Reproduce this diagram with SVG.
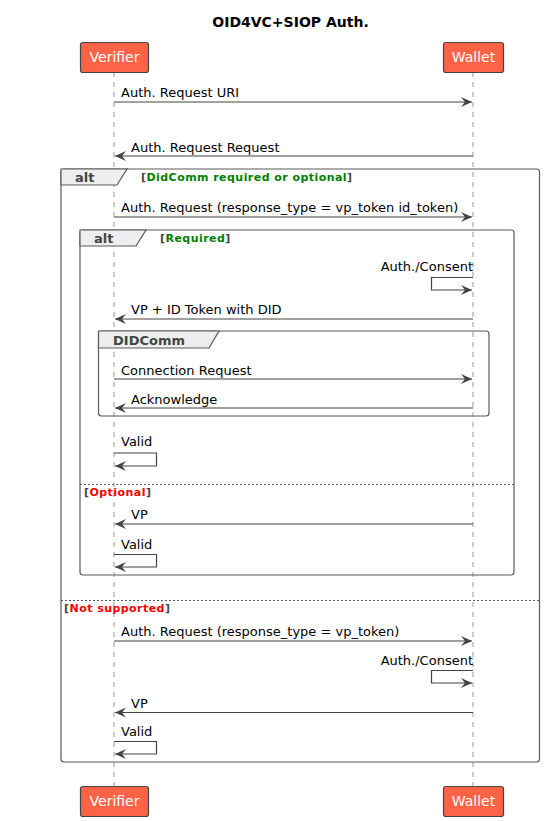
<svg xmlns="http://www.w3.org/2000/svg" width="545" height="821" viewBox="0 0 545 821">
<defs>
<style>
.t{font-family:"DejaVu Sans",sans-serif;font-size:13px;fill:#000}
.title{font-family:"DejaVu Sans",sans-serif;font-size:14px;font-weight:bold;fill:#000}
.p rect{fill:#FF6347;stroke:#444;stroke-width:1.2}
.p text{font-family:"DejaVu Sans",sans-serif;font-size:14px;fill:#fff}
.life{stroke:#999;stroke-width:1;stroke-dasharray:5,5}
.msg{stroke:#444;stroke-width:1.2;fill:none}
.frame{fill:none;stroke:#5a5a5a;stroke-width:1.2}
.tab{fill:#EEEEEE;stroke:#5a5a5a;stroke-width:1.2}
.ft{font-family:"DejaVu Sans",sans-serif;font-size:13px;font-weight:bold;fill:#444}
.g{font-family:"DejaVu Sans",sans-serif;font-size:11px;font-weight:bold;letter-spacing:0.45px;fill:#444}
.sep{stroke:#5a5a5a;stroke-width:1;stroke-dasharray:2,2}
</style>
<marker id="ah" viewBox="0 0 12 10" refX="11" refY="5" markerWidth="12" markerHeight="10" markerUnits="userSpaceOnUse" orient="auto">
<polygon points="0,0 11,5 0,10 4,5" fill="#444"/>
</marker>
</defs>
<rect width="545" height="821" fill="#fff"/>
<text class="title" x="290.5" y="27" text-anchor="middle">OID4VC+SIOP Auth.</text>

<g id="lifelines">
<line class="life" x1="114" y1="72" x2="114" y2="786"/>
<line class="life" x1="473" y1="72" x2="473" y2="786"/>
</g>

<g id="participant-verifier-top" class="p"><rect x="80.5" y="42.5" width="68" height="30" rx="2.5"/><text x="114.5" y="62" text-anchor="middle">Verifier</text></g>
<g id="participant-wallet-top" class="p"><rect x="443.5" y="42.5" width="60" height="30" rx="2.5"/><text x="473.5" y="62" text-anchor="middle">Wallet</text></g>
<g id="participant-verifier-bottom" class="p"><rect x="80.5" y="786.5" width="68" height="30" rx="2.5"/><text x="114.5" y="806" text-anchor="middle">Verifier</text></g>
<g id="participant-wallet-bottom" class="p"><rect x="443.5" y="786.5" width="60" height="30" rx="2.5"/><text x="473.5" y="806" text-anchor="middle">Wallet</text></g>

<g id="frames">
<g id="alt-outer">
<rect class="frame" x="61" y="169" width="478.5" height="593" rx="3"/>
<path class="tab" d="M61,169 H127 L117,185 H61 Z"/>
<text class="ft" x="75" y="182">alt</text>
<text class="g" x="141" y="181">[<tspan fill="#008000">DidComm required or optional</tspan>]</text>
<line class="sep" x1="61" y1="600.5" x2="539.5" y2="600.5"/>
<text class="g" x="64" y="612">[<tspan fill="#FF0000">Not supported</tspan>]</text>
</g>
<g id="alt-inner">
<rect class="frame" x="80" y="230" width="434" height="345" rx="3"/>
<path class="tab" d="M80,230 H146 L136,246 H80 Z"/>
<text class="ft" x="94" y="243">alt</text>
<text class="g" x="160" y="242">[<tspan fill="#008000">Required</tspan>]</text>
<line class="sep" x1="80" y1="484.5" x2="514" y2="484.5"/>
<text class="g" x="84" y="496">[<tspan fill="#FF0000">Optional</tspan>]</text>
</g>
<g id="group-didcomm">
<rect class="frame" x="98.5" y="331" width="390.5" height="85" rx="3"/>
<path class="tab" d="M98.5,331 H219 L209,348 H98.5 Z"/>
<text class="ft" x="113" y="345">DIDComm</text>
</g>
</g>

<g id="connectors">
<line class="msg" x1="114" y1="102" x2="472" y2="102" marker-end="url(#ah)"/>
<text class="t" x="121" y="97">Auth. Request URI</text>

<line class="msg" x1="473" y1="156" x2="115" y2="156" marker-end="url(#ah)"/>
<text class="t" x="131" y="152">Auth. Request Request</text>

<line class="msg" x1="114" y1="217" x2="472" y2="217" marker-end="url(#ah)"/>
<text class="t" x="121" y="212">Auth. Request (response_type = vp_token id_token)</text>

<path class="msg" d="M473,277.5 H431.5 V290 H472" marker-end="url(#ah)"/>
<text class="t" x="473" y="271" text-anchor="end">Auth./Consent</text>

<line class="msg" x1="473" y1="319" x2="115" y2="319" marker-end="url(#ah)"/>
<text class="t" x="131" y="314">VP + ID Token with DID</text>

<line class="msg" x1="114" y1="379" x2="472" y2="379" marker-end="url(#ah)"/>
<text class="t" x="121" y="375">Connection Request</text>

<line class="msg" x1="473" y1="408" x2="115" y2="408" marker-end="url(#ah)"/>
<text class="t" x="131" y="404">Acknowledge</text>

<path class="msg" d="M114,453 H156.5 V466 H115" marker-end="url(#ah)"/>
<text class="t" x="121" y="446">Valid</text>

<line class="msg" x1="473" y1="524" x2="115" y2="524" marker-end="url(#ah)"/>
<text class="t" x="131" y="519">VP</text>

<path class="msg" d="M114,554.5 H156.5 V567 H115" marker-end="url(#ah)"/>
<text class="t" x="121" y="549">Valid</text>

<line class="msg" x1="114" y1="641" x2="472" y2="641" marker-end="url(#ah)"/>
<text class="t" x="121" y="636">Auth. Request (response_type = vp_token)</text>

<path class="msg" d="M473,670.5 H431.5 V683 H472" marker-end="url(#ah)"/>
<text class="t" x="473" y="665" text-anchor="end">Auth./Consent</text>

<line class="msg" x1="473" y1="712.5" x2="115" y2="712.5" marker-end="url(#ah)"/>
<text class="t" x="131" y="708">VP</text>

<path class="msg" d="M114,741.5 H156.5 V754 H115" marker-end="url(#ah)"/>
<text class="t" x="121" y="736">Valid</text>
</g>
</svg>
